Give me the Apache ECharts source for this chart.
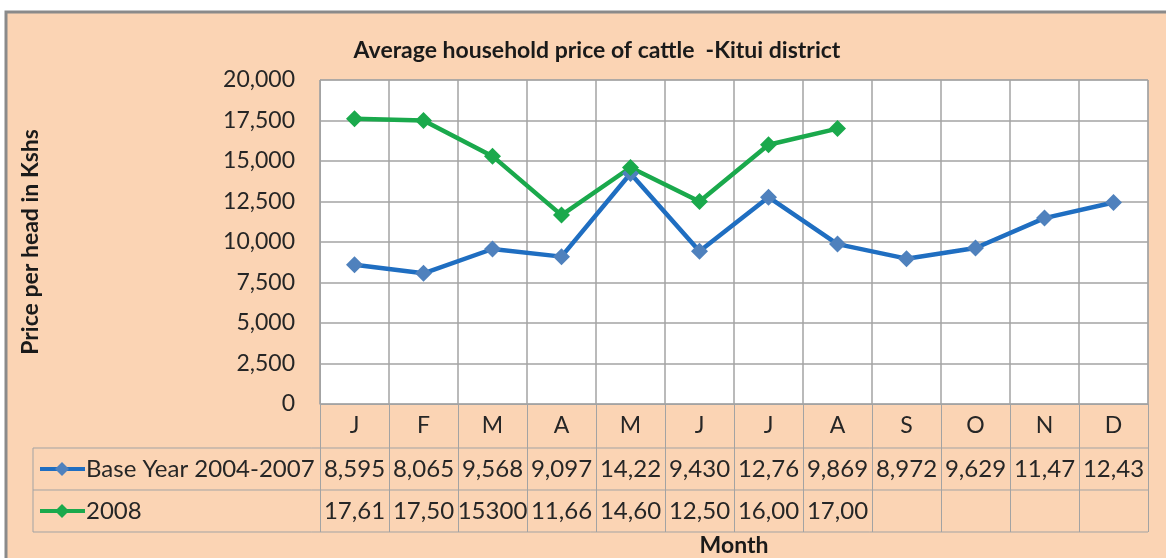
<!DOCTYPE html>
<html>
<head>
<meta charset="utf-8">
<script src="https://cdn.jsdelivr.net/npm/echarts@6/dist/echarts.min.js"></script>
<style>
  html, body { margin: 0; padding: 0; background: #fff; }
  #main { width: 1166px; height: 558px; }
</style>
</head>
<body>
<div id="main"></div>
<script>
// 数据
var months = ['J', 'F', 'M', 'A', 'M', 'J', 'J', 'A', 'S', 'O', 'N', 'D'];
var baseYear = [8595, 8065, 9568, 9097, 14225, 9430, 12765, 9869, 8972, 9629, 11475, 12435];
var y2008 = [17610, 17500, 15300, 11660, 14600, 12500, 16000, 17000, null, null, null, null];
// 表格里显示的文字（原图单元格太窄，被截断）
var baseLabels = ['8,595', '8,065', '9,568', '9,097', '14,22', '9,430', '12,76', '9,869', '8,972', '9,629', '11,47', '12,43'];
var labels2008 = ['17,61', '17,50', '15300', '11,66', '14,60', '12,50', '16,00', '17,00', '', '', '', ''];

var FONT = 'Lato';
var GRAY = '#a3a3a3';
var TXT = '#262626';
var BLUE_LINE = '#1f6ec1', BLUE_MK = '#4f81bd';
var GREEN = '#1aa94c';

var myChart = echarts.init(document.getElementById('main'));

var option = {
    backgroundColor: '#fff',
    animation: false,
    title: {
        text: 'Average household price of cattle  -Kitui district',
        left: 592,
        top: 34,
        textAlign: 'center',
        textStyle: { fontFamily: FONT, fontSize: 23, fontWeight: 'bold', color: '#1a1a1a' }
    },
    grid: {
        left: 320, top: 80, width: 828, height: 324,
        show: true, backgroundColor: '#fff', borderColor: GRAY, borderWidth: 1
    },
    xAxis: {
        type: 'category',
        data: months,
        boundaryGap: true,
        axisLine: { lineStyle: { color: GRAY } },
        axisTick: { show: true, interval: 0, length: 128, lineStyle: { color: GRAY } },
        axisLabel: { interval: 0, margin: 10, fontFamily: FONT, fontSize: 23, color: TXT },
        splitLine: { show: true, interval: 0, lineStyle: { color: GRAY, width: 1.5 } }
    },
    yAxis: {
        type: 'value',
        min: 0, max: 20000, interval: 2500,
        name: 'Price per head in Kshs',
        nameLocation: 'middle',
        nameGap: 278,
        nameTextStyle: { fontFamily: FONT, fontSize: 23, fontWeight: 'bold', color: '#1a1a1a' },
        axisLine: { show: true, lineStyle: { color: GRAY } },
        axisTick: { show: false },
        axisLabel: {
            margin: 25, fontFamily: FONT, fontSize: 23, color: TXT,
            formatter: function(v) { return v.toLocaleString('en-US'); }
        },
        splitLine: { lineStyle: { color: GRAY, width: 1.5 } }
    },
    series: [{
            name: 'Base Year 2004-2007',
            type: 'line',
            data: baseYear,
            symbol: 'diamond',
            symbolSize: 17,
            lineStyle: { color: BLUE_LINE, width: 4.5 },
            itemStyle: { color: BLUE_MK }
        },
        {
            name: '2008',
            type: 'line',
            data: y2008,
            symbol: 'diamond',
            symbolSize: 17,
            lineStyle: { color: GREEN, width: 4.5 },
            itemStyle: { color: GREEN }
        }
    ]
};
myChart.setOption(option);

// 表格部分，用坐标轴换算位置
var x0 = myChart.convertToPixel({ xAxisIndex: 0 }, 0);
var band = myChart.convertToPixel({ xAxisIndex: 0 }, 1) - x0;
var right = myChart.convertToPixel({ xAxisIndex: 0 }, months.length - 1) + band / 2;
var plotLeft = x0 - band / 2;
var yBase = myChart.convertToPixel({ yAxisIndex: 0 }, 0);
var tableLeft = 33;
var r1 = yBase + 44, r2 = r1 + 42, r3 = r2 + 42;

var g = [{
    type: 'rect', z: -10, silent: true,
    shape: { x: 6, y: 12, width: 1200, height: 600 },
    style: { fill: '#fbd4b4', stroke: '#8a8a8a', lineWidth: 3 }
}];

function hline(y, x1, x2) {
    g.push({ type: 'line', silent: true, shape: { x1: x1, y1: y, x2: x2, y2: y }, style: { stroke: GRAY, lineWidth: 1 } });
}
hline(r1, tableLeft, right);
hline(r2, tableLeft, right);
hline(r3, tableLeft, right);
g.push({ type: 'line', silent: true, shape: { x1: tableLeft, y1: r1, x2: tableLeft, y2: r3 }, style: { stroke: GRAY, lineWidth: 1 } });

function cellText(txt, x, y, align) {
    g.push({
        type: 'text', silent: true, x: x, y: y,
        style: { text: txt, fontFamily: FONT, fontSize: 24, fill: TXT, align: align || 'center', verticalAlign: 'middle' }
    });
}
months.forEach(function(m, i) {
    var cx = myChart.convertToPixel({ xAxisIndex: 0 }, i);
    cellText(baseLabels[i], cx, (r1 + r2) / 2);
    cellText(labels2008[i], cx, (r2 + r3) / 2);
});

// 表格里的图例
function legendKey(y, lineColor, mkColor, label) {
    g.push({ type: 'line', silent: true, shape: { x1: 40, y1: y, x2: 85, y2: y }, style: { stroke: lineColor, lineWidth: 4 } });
    g.push({
        type: 'polygon', silent: true,
        shape: { points: [[62, y - 7], [69, y], [62, y + 7], [55, y]] },
        style: { fill: mkColor }
    });
    cellText(label, 86, y, 'left');
}
legendKey((r1 + r2) / 2, BLUE_LINE, BLUE_MK, 'Base Year 2004-2007');
legendKey((r2 + r3) / 2, GREEN, GREEN, '2008');

g.push({
    type: 'text', silent: true, x: (plotLeft + right) / 2, y: r3 + 14,
    style: { text: 'Month', fontFamily: FONT, fontSize: 23, fontWeight: 'bold', fill: '#1a1a1a', align: 'center', verticalAlign: 'middle' }
});

myChart.setOption({ graphic: g });
</script>
</body>
</html>
